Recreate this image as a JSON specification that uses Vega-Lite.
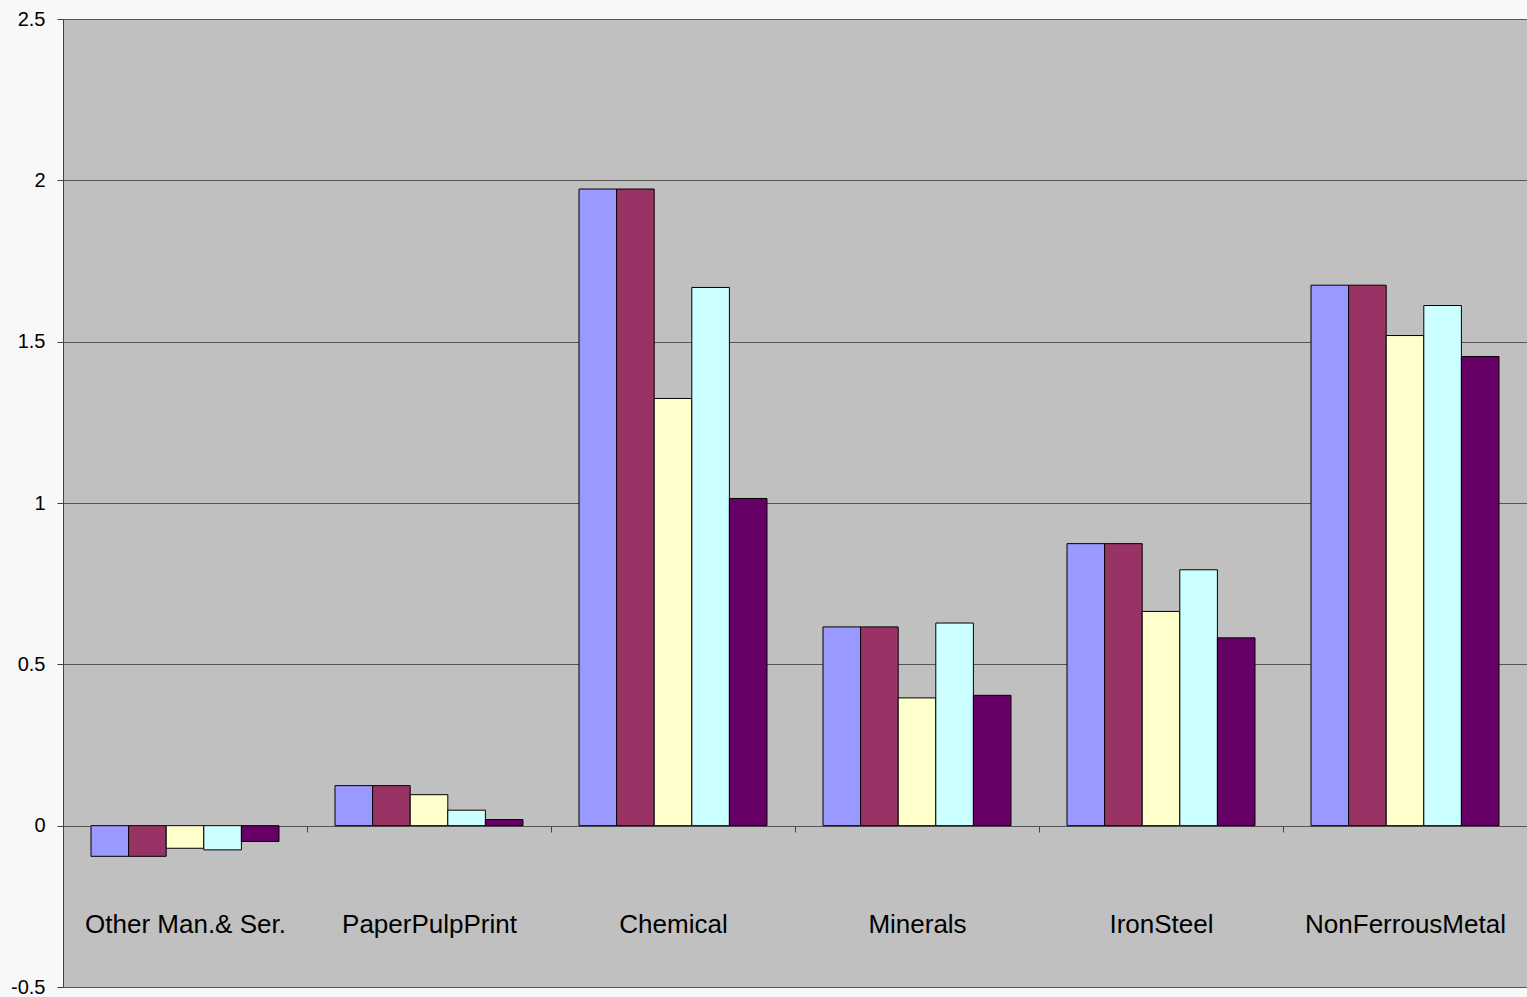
{
  "$schema": "https://vega.github.io/schema/vega-lite/v6.json",
  "width": 1464,
  "height": 968,
  "autosize": {"type": "none"},
  "padding": {"left": 63, "top": 19, "right": 0, "bottom": 10},
  "background": "#F8F8F8",
  "config": {
    "view": {"fill": "#C0C0C0", "stroke": "#808080", "strokeWidth": 1},
    "font": "Liberation Sans"
  },
  "data": {
    "values": [
      {"category": "Other Man.& Ser.", "series": "s1", "value": -0.095},
      {"category": "Other Man.& Ser.", "series": "s2", "value": -0.095},
      {"category": "Other Man.& Ser.", "series": "s3", "value": -0.070},
      {"category": "Other Man.& Ser.", "series": "s4", "value": -0.075},
      {"category": "Other Man.& Ser.", "series": "s5", "value": -0.049},
      {"category": "PaperPulpPrint", "series": "s1", "value": 0.124},
      {"category": "PaperPulpPrint", "series": "s2", "value": 0.124},
      {"category": "PaperPulpPrint", "series": "s3", "value": 0.096},
      {"category": "PaperPulpPrint", "series": "s4", "value": 0.048},
      {"category": "PaperPulpPrint", "series": "s5", "value": 0.019},
      {"category": "Chemical", "series": "s1", "value": 1.973},
      {"category": "Chemical", "series": "s2", "value": 1.973},
      {"category": "Chemical", "series": "s3", "value": 1.324},
      {"category": "Chemical", "series": "s4", "value": 1.668},
      {"category": "Chemical", "series": "s5", "value": 1.014},
      {"category": "Minerals", "series": "s1", "value": 0.616},
      {"category": "Minerals", "series": "s2", "value": 0.616},
      {"category": "Minerals", "series": "s3", "value": 0.396},
      {"category": "Minerals", "series": "s4", "value": 0.628},
      {"category": "Minerals", "series": "s5", "value": 0.404},
      {"category": "IronSteel", "series": "s1", "value": 0.874},
      {"category": "IronSteel", "series": "s2", "value": 0.874},
      {"category": "IronSteel", "series": "s3", "value": 0.664},
      {"category": "IronSteel", "series": "s4", "value": 0.793},
      {"category": "IronSteel", "series": "s5", "value": 0.582},
      {"category": "NonFerrousMetal", "series": "s1", "value": 1.675},
      {"category": "NonFerrousMetal", "series": "s2", "value": 1.675},
      {"category": "NonFerrousMetal", "series": "s3", "value": 1.519},
      {"category": "NonFerrousMetal", "series": "s4", "value": 1.612},
      {"category": "NonFerrousMetal", "series": "s5", "value": 1.454}
    ]
  },
  "mark": {"type": "bar", "stroke": "#000000", "strokeWidth": 1},
  "encoding": {
    "x": {
      "field": "category",
      "type": "nominal",
      "sort": null,
      "scale": {"paddingInner": 0, "paddingOuter": 0},
      "axis": {
        "title": null,
        "orient": "bottom",
        "offset": -161,
        "labelAngle": 0,
        "labelFontSize": 26,
        "labelColor": "#000000",
        "labelPadding": 79,
        "labelLimit": 0,
        "labelBaseline": "top",
        "tickBand": "extent",
        "tickSize": 6,
        "tickColor": "#404040",
        "domain": true,
        "domainColor": "#555555",
        "grid": false
      }
    },
    "xOffset": {
      "field": "series",
      "type": "nominal",
      "scale": {"paddingInner": 0, "paddingOuter": 0.745}
    },
    "y": {
      "field": "value",
      "type": "quantitative",
      "scale": {"domain": [-0.5, 2.5], "nice": false, "zero": false},
      "axis": {
        "title": null,
        "values": [-0.5, 0, 0.5, 1, 1.5, 2, 2.5],
        "labelExpr": "'' + datum.value",
        "labelFontSize": 20,
        "labelColor": "#000000",
        "labelPadding": 12,
        "tickSize": 6,
        "tickColor": "#404040",
        "domainColor": "#404040",
        "grid": true,
        "gridColor": "#555555",
        "gridOpacity": 1,
        "gridWidth": 1
      }
    },
    "color": {
      "field": "series",
      "type": "nominal",
      "scale": {
        "domain": ["s1", "s2", "s3", "s4", "s5"],
        "range": ["#9999FF", "#993366", "#FFFFCC", "#CCFFFF", "#660066"]
      },
      "legend": null
    }
  }
}
